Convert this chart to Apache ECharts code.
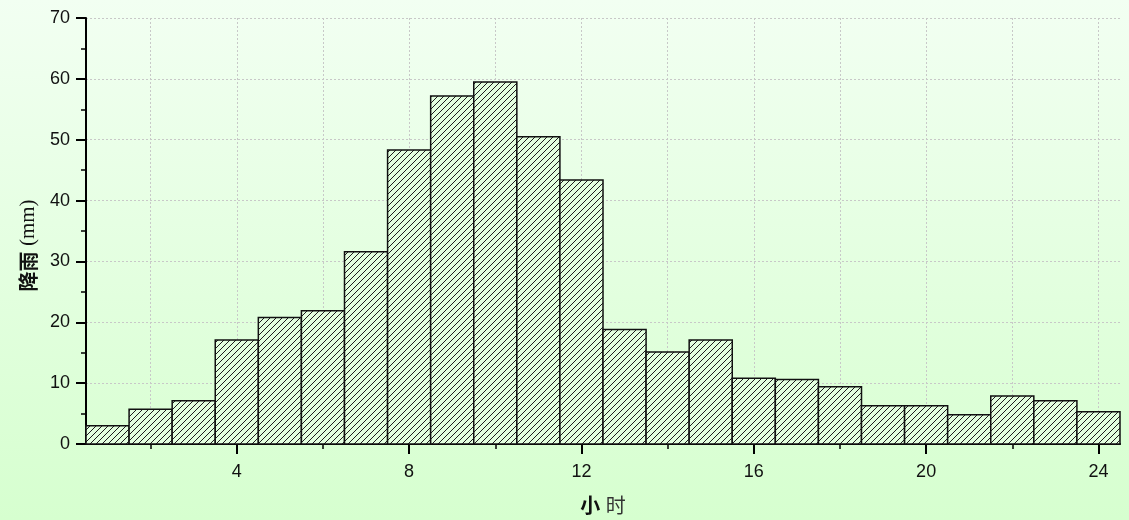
<!DOCTYPE html>
<html>
<head>
<meta charset="utf-8">
<script src="https://cdn.jsdelivr.net/npm/echarts@6/dist/echarts.min.js"></script>
<style>
html,body{margin:0;padding:0;}
#c{width:1129px;height:520px;background:linear-gradient(to bottom,#f2fff2 0%,#d6ffcf 100%);}
</style>
</head>
<body>
<div id="c"></div>
<script>
const hours = [1,2,3,4,5,6,7,8,9,10,11,12,13,14,15,16,17,18,19,20,21,22,23,24];
const rainfall = [3.0,5.7,7.1,17.1,20.8,21.9,31.6,48.3,57.2,59.5,50.5,43.4,18.8,15.1,17.1,10.8,10.6,9.4,6.3,6.3,4.8,7.9,7.1,5.3];
const xMajorTicks = [4,8,12,16,20,24];
const xMinorTicks = [2,6,10,14,18,22];

// hatch pattern: crisp 1px diagonal "/" lines, 6px period
const P = 6;
const pc = document.createElement('canvas');
pc.width = P; pc.height = P;
const g = pc.getContext('2d');
g.fillStyle = '#e3ffdf';
g.fillRect(0,0,P,P);
g.fillStyle = '#1c1c1c';
for (let i = 0; i < P; i++) { g.fillRect(i, P - 1 - i, 1, 1); }
const hatch = {image: pc, repeat: 'repeat'};

const chart = echarts.init(document.getElementById('c'), null, {renderer:'canvas'});
const data = hours.map((h,i)=>[h, rainfall[i]]);
const axisFont = {fontFamily:'Liberation Sans, Arial, sans-serif', fontSize:18, color:'#111'};
const splitStyle = {show:true, lineStyle:{color:'#c8c8c8', type:[2,2], width:1}};

chart.setOption({
  backgroundColor: 'transparent',
  animation: false,
  grid: {left:86, right:9, top:18, bottom:75, containLabel:false},
  xAxis: [{
    type:'value', min:0.5, max:24.5, position:'bottom',
    name:'{b|小} {n|时}', nameLocation:'middle', nameGap:51,
    nameTextStyle:{fontSize:20, rich:{
      b:{fontFamily:'Noto Sans CJK SC', fontWeight:'bold', fontSize:20, color:'#111'},
      n:{fontFamily:'Noto Sans CJK SC', fontWeight:'normal', fontSize:20, color:'#333'}
    }},
    axisLine:{show:true, onZero:false, lineStyle:{color:'#000', width:2}},
    axisTick:{show:true, length:10, lineStyle:{color:'#000', width:2}, customValues: xMajorTicks},
    axisLabel:Object.assign({margin:19, customValues: xMajorTicks}, axisFont),
    splitLine: splitStyle
  },{
    type:'value', min:0.5, max:24.5, position:'bottom', offset:0,
    axisLine:{show:false},
    axisTick:{show:true, length:5, lineStyle:{color:'#000', width:1.5}, customValues: xMinorTicks},
    axisLabel:{show:false},
    splitLine: splitStyle
  }],
  yAxis: {
    type:'value', min:0, max:70, interval:10,
    name:'{b|降雨} {n|(mm)}', nameLocation:'middle', nameGap:47,
    nameTextStyle:{fontSize:20, padding:[0,29,0,0], rich:{
      b:{fontFamily:'Noto Sans CJK SC', fontWeight:'bold', fontSize:20, color:'#111'},
      n:{fontFamily:'Liberation Serif, Times New Roman, serif', fontSize:21, color:'#111'}
    }},
    axisLine:{show:true, lineStyle:{color:'#000', width:2}},
    axisTick:{show:true, length:10, lineStyle:{color:'#000', width:2}},
    minorTick:{show:true, splitNumber:2, length:5, lineStyle:{color:'#000', width:1.5}},
    axisLabel:Object.assign({margin:16}, axisFont),
    splitLine: splitStyle
  },
  series: [{
    type:'custom',
    xAxisIndex:0,
    data: data,
    renderItem: function(params, api){
      const x = api.value(0), y = api.value(1);
      const p0 = api.coord([x-0.5, 0]);
      const p1 = api.coord([x+0.5, y]);
      return {
        type:'rect',
        shape:{x:p0[0], y:p1[1], width:p1[0]-p0[0], height:p0[1]-p1[1]},
        style:{fill:hatch, stroke:'#111', lineWidth:1.5}
      };
    },
    encode:{x:0, y:1}
  }]
});
</script>
</body>
</html>
